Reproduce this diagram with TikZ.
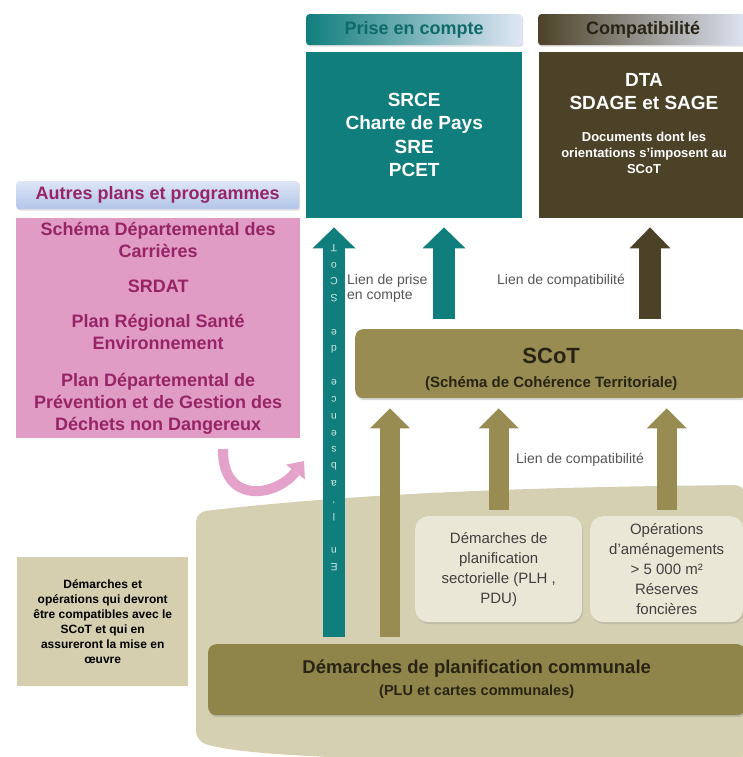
\documentclass[tikz,border=0pt]{standalone}
\usepackage{fontspec}
\setmainfont{Liberation Sans}
\usepackage{tikz}
\usetikzlibrary{arrows.meta,shadows}

\definecolor{tealc}{RGB}{16,126,124}
\definecolor{brownc}{RGB}{76,66,40}
\definecolor{olivec}{RGB}{152,140,82}
\definecolor{communc}{RGB}{143,132,74}
\definecolor{beigebg}{RGB}{214,208,178}
\definecolor{creamc}{RGB}{235,231,214}
\definecolor{leftc}{RGB}{213,207,176}
\definecolor{pinkc}{RGB}{225,156,197}
\definecolor{pinktxt}{RGB}{150,36,102}
\definecolor{pinkarr}{RGB}{228,162,202}
\definecolor{palehdr}{RGB}{224,230,245}
\definecolor{bluetop}{RGB}{222,230,246}
\definecolor{bluehdr}{RGB}{178,196,233}
\definecolor{liengray}{RGB}{85,85,85}
\definecolor{darktxt}{RGB}{40,36,20}

\begin{document}
\begin{tikzpicture}[
  x=1pt, y=-1pt,
  hdr/.style={anchor=north west, rounded corners=3pt, minimum height=31pt, inner sep=0pt,
              font=\bfseries\fontsize{18}{20}\selectfont,
              drop shadow={opacity=0.25, shadow xshift=1pt, shadow yshift=-1.5pt}},
  bigbox/.style={anchor=north west, inner sep=0pt, align=center, text=white,
                 font=\bfseries\fontsize{19}{23.5}\selectfont},
  band/.style={anchor=north west, rounded corners=8pt, inner sep=0pt, align=center, text=darktxt,
               drop shadow={opacity=0.3, shadow xshift=1pt, shadow yshift=-2pt}},
  smallbox/.style={anchor=north west, rounded corners=13pt, fill=creamc, inner sep=0pt, align=center,
                   minimum height=106pt, text=black!75, font=\fontsize{15}{20}\selectfont,
                   drop shadow={opacity=0.25, shadow xshift=1pt, shadow yshift=-2pt}},
  lien/.style={inner sep=0pt, text=liengray, align=left, font=\fontsize{14}{15}\selectfont},
  tealarrow/.style={tealc, line width=22pt, -{Triangle[width=43pt, length=21pt, line width=0pt]}},
  brownarrow/.style={brownc, line width=22pt, -{Triangle[width=41pt, length=21pt, line width=0pt]}},
  olivearrow/.style={olivec, line width=20pt, -{Triangle[width=40pt, length=20pt, line width=0pt]}},
  pinkarc/.style={pinkarr, line width=10pt, -{Triangle[width=24pt, length=14pt, line width=0pt]}},
  vchar/.style={rotate=180, inner sep=0pt, text=white!80!tealc, font=\fontsize{10.5}{10.5}\selectfont}
]
\useasboundingbox (0,0) rectangle (743,757);

% Ground of the local level
\fill[beigebg, rounded corners=10pt] (196,512) .. controls (350,494) and (520,487) .. (745,485)
  -- (745,760) -- (450,760) .. controls (300,758) and (230,752) .. (196,741) -- cycle;

% Top boxes
\node[hdr, minimum width=216pt, left color=tealc, middle color=palehdr, right color=palehdr,
      text=tealc!85!black] (prise) at (306,14) {Prise en compte};
\node[bigbox, minimum width=216pt, minimum height=166pt, fill=tealc] (srce) at (306,52)
  {SRCE\\Charte de Pays\\SRE\\PCET};

\node[hdr, minimum width=210pt, left color=brownc, middle color=palehdr, right color=palehdr,
      text=darktxt] (compat) at (538,14) {Compatibilité};
\node[bigbox, minimum width=206pt, minimum height=166pt, fill=brownc] (dta) at (539,52) {};
\node[align=center, text=white, anchor=north, inner sep=0pt,
      font=\bfseries\fontsize{13}{16}\selectfont] (dtatxt) at (644,73)
  {{\fontsize{19}{22}\selectfont DTA}\\[7pt]{\fontsize{19}{22}\selectfont SDAGE et SAGE}\\[16pt]
   Documents dont les\\orientations s'imposent au\\SCoT};

% Other plans
\node[hdr, minimum width=283pt, minimum height=28pt, top color=bluetop, bottom color=bluehdr,
      text=pinktxt] (autres) at (16,181) {Autres plans et programmes};
\node[anchor=north west, minimum width=284pt, minimum height=220pt, inner sep=0pt, fill=pinkc,
      align=center, text=pinktxt, font=\bfseries\fontsize{18}{22}\selectfont] (plans) at (16,218)
  {Schéma Départemental des\\Carrières\\[13pt]SRDAT\\[13pt]Plan Régional Santé\\Environnement\\[15pt]
   Plan Départemental de\\Prévention et de Gestion des\\Déchets non Dangereux};

% SCoT
\node[band, fill=olivec, minimum width=392pt, minimum height=69pt,
      font=\bfseries\fontsize{15}{24}\selectfont] (scot) at (355,329)
  {\rule{0pt}{26pt}{\fontsize{22}{24}\selectfont SCoT}\\(Schéma de Cohérence Territoriale)};

% Local level
\node[smallbox, minimum width=167pt] (sect) at (415,516)
  {Démarches de\\planification\\sectorielle (PLH ,\\PDU)};
\node[smallbox, minimum width=153pt] (ops) at (590,516)
  {Opérations\\d'aménagements\\> 5~000 m²\\Réserves\\foncières};
\node[band, fill=communc, minimum width=537pt, minimum height=71pt,
      font=\bfseries\fontsize{14.5}{22}\selectfont] (commune) at (208,644)
  {{\fontsize{18.5}{22}\selectfont Démarches de planification communale}\\(PLU et cartes communales)};
\node[anchor=north west, fill=leftc, minimum width=171pt, minimum height=129pt, inner sep=0pt,
      align=center, font=\bfseries\fontsize{12}{15}\selectfont] (oper) at (17,557)
  {Démarches et\\opérations qui devront\\être compatibles avec le\\SCoT et qui en\\assureront la mise en\\œuvre};

% Links
\coordinate (tA) at (334,0);
\coordinate (tB) at (444,0);
\coordinate (tC) at (650,0);
\coordinate (oA) at (390,0);
\draw[tealarrow, shorten <=7pt, shorten >=9pt] (commune.north -| tA) -- (srce.south -| tA);
\draw[tealarrow, shorten <=10pt, shorten >=9pt] (scot.north -| tB) -- (srce.south -| tB);
\draw[brownarrow, shorten <=10pt, shorten >=9pt] (scot.north -| tC) -- (dta.south -| tC);
\draw[olivearrow, shorten <=7pt, shorten >=10pt] (commune.north -| oA) -- (scot.south -| oA);
\draw[olivearrow, shorten <=6pt, shorten >=10pt] (sect.north) -- (sect.north |- scot.south);
\draw[olivearrow, shorten <=6pt, shorten >=10pt] (ops.north) -- (ops.north |- scot.south);

% Text along the long arrow
\foreach \c [count=\i] in {E,n,{},l,{'},a,b,s,e,n,c,e,{},d,e,{},S,C,o,T}
  \node[vchar] (v\i) at (334,{584-16.8*\i}) {\c};

\node[lien, anchor=north west] (lienA) at (347,274) {Lien de prise\\en compte};
\node[lien] (lienB) at (561,281) {Lien de compatibilité};
\node[lien] (lienC) at (580,460) {Lien de compatibilité};

% Pink arc
\coordinate (arcA) at (223,449);
\coordinate (arcB) at (304,461);
\draw[pinkarc] (arcA) .. controls (222,505) and (276,497) .. (arcB);

\end{tikzpicture}
\end{document}
